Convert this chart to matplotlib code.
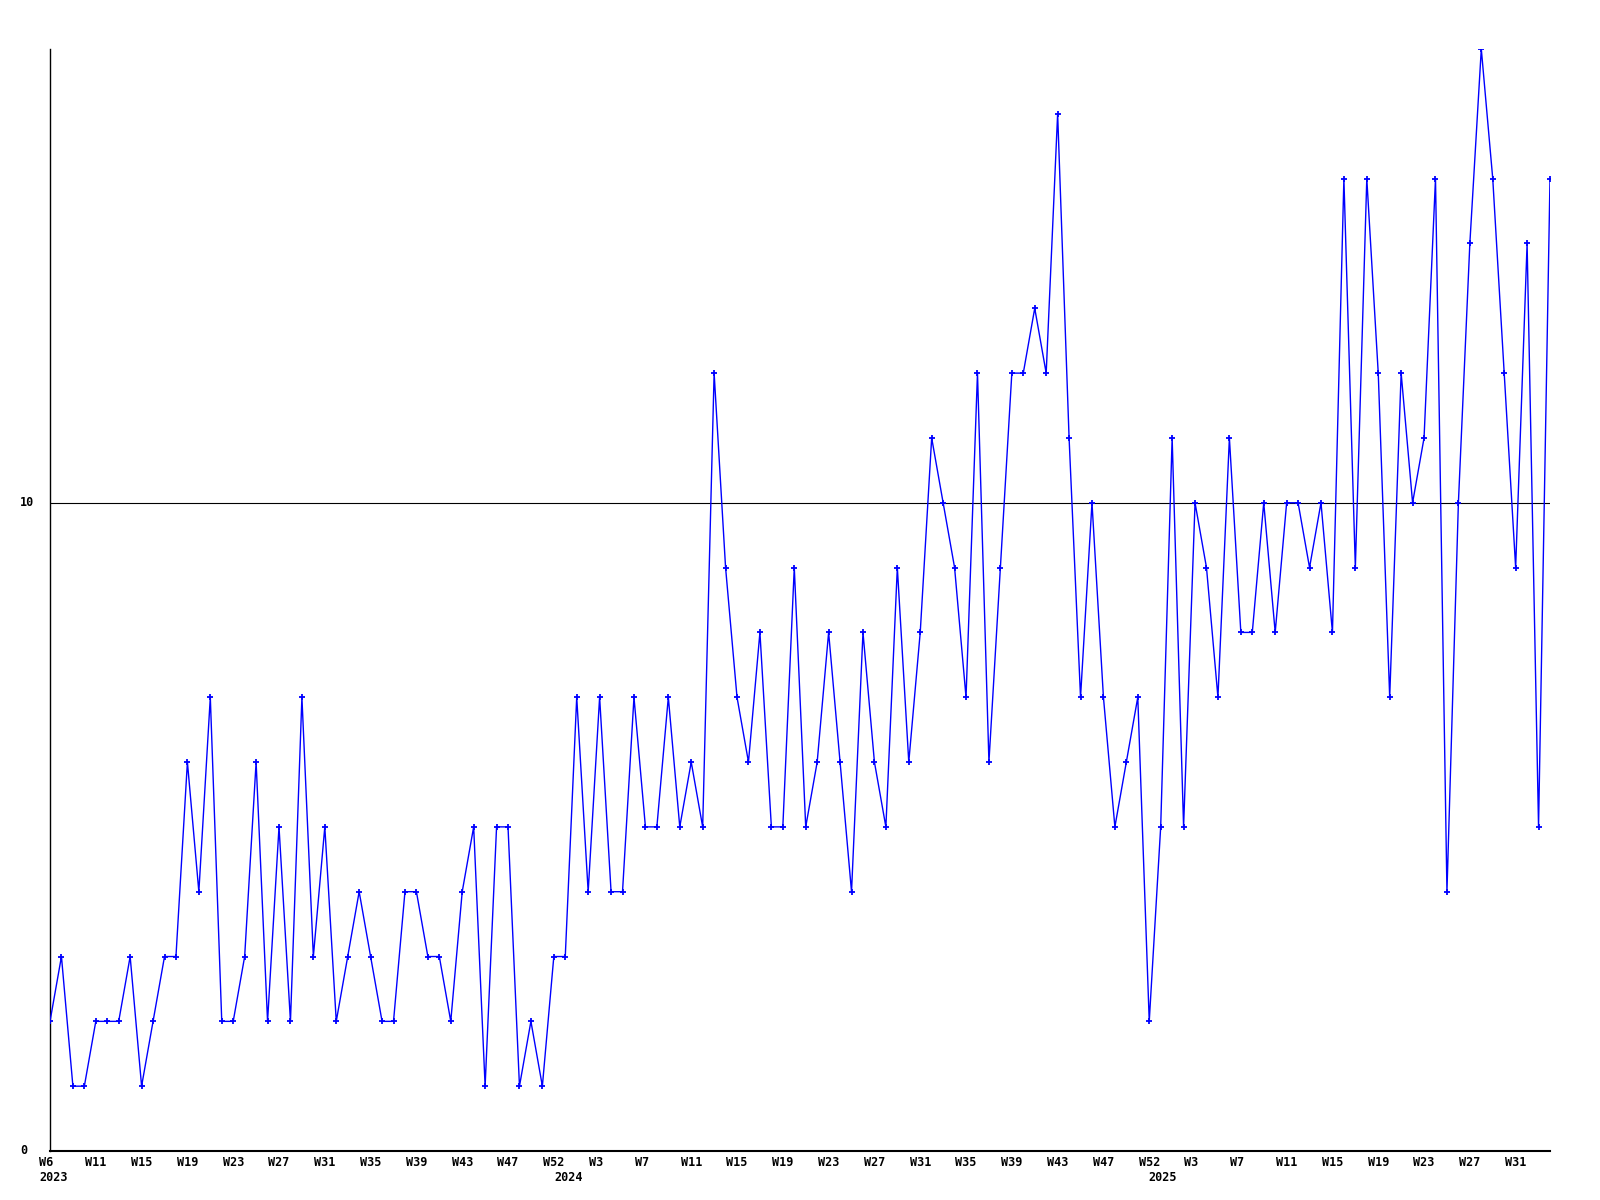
import numpy as np
import matplotlib
matplotlib.use("Agg")
import matplotlib.pyplot as plt
import matplotlib.transforms as mtrans

# weekly counts, first point is the W6 2023 slot, 132 weeks in total
values = [2, 3, 1, 1, 2, 2, 2, 3, 1, 2, 3, 3, 6, 4, 7, 2, 2, 3, 6, 2,
          5, 2, 7, 3, 5, 2, 3, 4, 3, 2, 2, 4, 4, 3, 3, 2, 4, 5, 1, 5,
          5, 1, 2, 1, 3, 3, 7, 4, 7, 4, 4, 7, 5, 5, 7, 5, 6, 5, 12, 9,
          7, 6, 8, 5, 5, 9, 5, 6, 8, 6, 4, 8, 6, 5, 9, 6, 8, 11, 10, 9,
          7, 12, 6, 9, 12, 12, 13, 12, 16, 11, 7, 10, 7, 5, 6, 7, 2, 5, 11, 5,
          10, 9, 7, 11, 8, 8, 10, 8, 10, 10, 9, 10, 8, 15, 9, 15, 12, 7, 12, 10,
          11, 15, 4, 10, 14, 17, 15, 12, 9, 14, 5, 15]

week_labels = ["W6", "W11", "W15", "W19", "W23", "W27", "W31", "W35", "W39", "W43", "W47", "W52",
               "W3", "W7", "W11", "W15", "W19", "W23", "W27", "W31", "W35", "W39", "W43", "W47", "W52",
               "W3", "W7", "W11", "W15", "W19", "W23", "W27", "W31"]
week_pos = list(range(0, 129, 4))

years = ["2023", "2024", "2025"]
year_pos = [0.3, 45.3, 97.2]

ytick_vals = [0, 10]

x = np.arange(len(values))

fig = plt.figure(figsize=(16, 12), dpi=100)
ax = fig.add_axes([50 / 1600, 49 / 1200, 1500 / 1600, 1102 / 1200])

ax.axhline(10, color="black", lw=0.8, zorder=1)
ax.plot(x, values, color="#0000ff", lw=1.0, marker="+", ms=4, mew=1.3, zorder=3)

ax.set_xlim(0, len(values) - 1)
ax.set_ylim(0, 17)
for s in ["top", "right"]:
    ax.spines[s].set_visible(False)
ax.spines["left"].set_linewidth(1.0)
ax.spines["bottom"].set_linewidth(1.5)
ax.set_xticks([])
ax.set_yticks([])

font = dict(family="DejaVu Sans Mono", weight="bold", size=8.5)

for p, lab in zip(week_pos, week_labels):
    ax.annotate(lab.ljust(3), (p, 0), xytext=(0, -8), textcoords="offset points",
                ha="center", va="center", **font)
for p, lab in zip(year_pos, years):
    ax.annotate(lab, (p, 0), xytext=(0, -19), textcoords="offset points",
                ha="center", va="center", **font)

trans = mtrans.blended_transform_factory(fig.transFigure, ax.transData)
for v in ytick_vals:
    ax.text(20 / 1600, v, str(v), transform=trans, ha="left", va="center", **font)

fig.savefig("out.png", dpi=100, facecolor="white")
